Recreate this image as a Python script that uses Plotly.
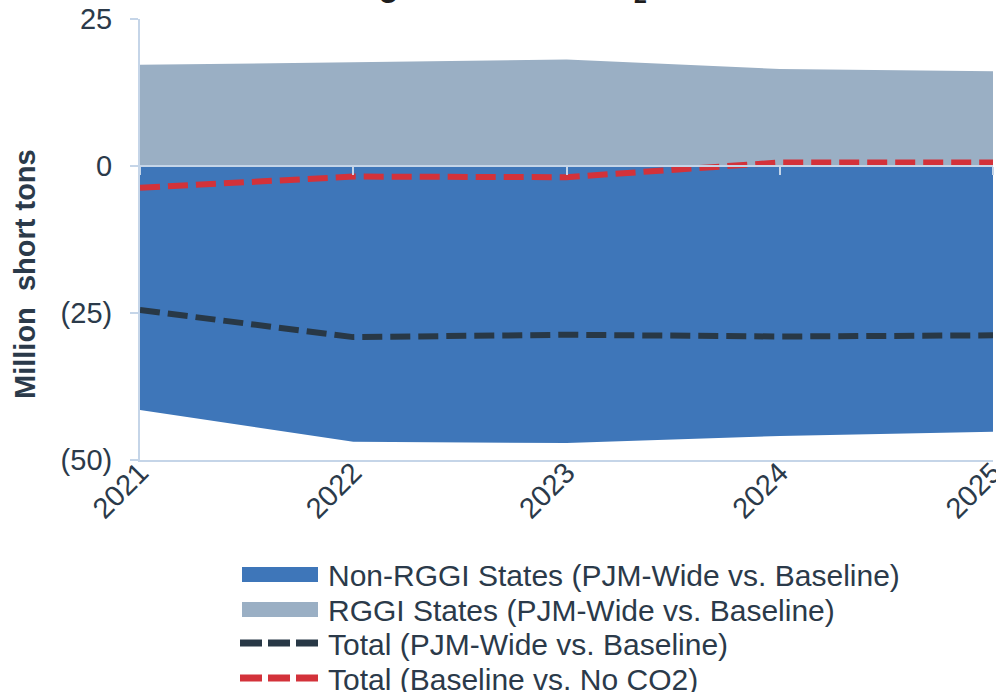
import plotly.graph_objects as go

years = [2021, 2022, 2023, 2024, 2025]
year_labels = ["2021", "2022", "2023", "2024", "2025"]
non_rggi = [-41.5, -46.9, -47.1, -45.9, -45.2]
rggi = [17.2, 17.6, 18.1, 16.5, 16.1]
total_pjm = [-24.5, -29.1, -28.7, -29.0, -28.8]
total_base = [-3.7, -1.8, -1.9, 0.6, 0.6]
y_ticks = [25, 0, -25, -50]
y_tick_labels = ["25", "0", "(25)", "(50)"]
series_names = ["Non-RGGI States (PJM-Wide vs. Baseline)",
                "RGGI States (PJM-Wide vs. Baseline)",
                "Total (PJM-Wide vs. Baseline)",
                "Total (Baseline vs. No CO2)"]

FONT = "Liberation Sans, Arial, sans-serif"
TXT = "#2b3a4a"
AX = "#c5d5e8"
BLUE = "#3e76b9"
GRAY = "#9aafc4"
DARK = "#283846"
RED = "#d3323a"

W, H = 996, 692
L, R, T, B = 140, 3, 19, 232
PW, PH = W - L - R, H - T - B


def px(x):
    return (x - L) / PW


def py(y):
    return (H - B - y) / PH


fig = go.Figure()
fig.add_trace(go.Scatter(x=years, y=non_rggi, name=series_names[0], mode="lines",
                         fill="tozeroy", fillcolor=BLUE, line=dict(width=0, color=BLUE),
                         showlegend=False))
fig.add_trace(go.Scatter(x=years, y=rggi, name=series_names[1], mode="lines",
                         fill="tozeroy", fillcolor=GRAY, line=dict(width=0, color=GRAY),
                         showlegend=False))
fig.add_trace(go.Scatter(x=years, y=total_pjm, name=series_names[2], mode="lines",
                         line=dict(width=6, color=DARK, dash="20px,8px"), showlegend=False))
fig.add_trace(go.Scatter(x=years, y=total_base, name=series_names[3], mode="lines",
                         line=dict(width=6, color=RED, dash="20px,8px"), showlegend=False))
# helper trace for the category axis that crosses at zero
fig.add_trace(go.Scatter(x=years, y=[0] * len(years), xaxis="x2", mode="lines",
                         line=dict(width=0), showlegend=False, hoverinfo="skip"))

fig.update_layout(
    width=W, height=H,
    margin=dict(l=L, r=R, t=T, b=B),
    paper_bgcolor="white", plot_bgcolor="white",
    font=dict(family=FONT, size=29, color=TXT),
    showlegend=False,
    xaxis=dict(range=[2021, 2025], tickvals=years, ticktext=year_labels,
               tickangle=-45, showgrid=False, zeroline=False, automargin=False,
               showline=True, linecolor=AX, linewidth=2, ticks="",
               ticklabeloverflow="allow", ticklabelstandoff=-18,
               tickfont=dict(family=FONT, size=29, color=TXT)),
    xaxis2=dict(range=[2021, 2025], overlaying="x", anchor="free",
                position=50 / 75, tickvals=years, showticklabels=False,
                showgrid=False, zeroline=False, showline=True, linecolor=AX,
                linewidth=2, ticks="outside", ticklen=8, tickwidth=2,
                tickcolor=AX, layer="above traces", automargin=False),
    yaxis=dict(range=[-50, 25], tickvals=y_ticks, ticktext=y_tick_labels,
               showgrid=True, gridcolor=AX, gridwidth=2, zeroline=False,
               showline=True, linecolor=AX, linewidth=2, automargin=False,
               ticks="outside", ticklen=8, tickwidth=2, tickcolor=AX,
               ticklabelstandoff=12,
               tickfont=dict(family=FONT, size=29, color=TXT)),
)

# y-axis title
fig.add_annotation(text="<b>Million  short tons</b>", xref="paper", yref="paper",
                   x=px(25), y=py(274), xanchor="center", yanchor="middle",
                   textangle=-90, showarrow=False,
                   font=dict(family=FONT, size=29, color=TXT))

# chart title (cropped at the top of the image)
fig.add_annotation(text="<b>Change in Annual CO<sub>2</sub> Emissions</b>",
                   xref="paper", yref="paper", x=px(294), y=1.0,
                   xanchor="left", yanchor="bottom", yshift=9,
                   showarrow=False, font=dict(family=FONT, size=33, color="#1e1e1e"))

# legend drawn below the plot
row_y = [574.5, 609.5, 643, 678]
for i, name in enumerate(series_names):
    cy = row_y[i]
    if i < 2:
        col = BLUE if i == 0 else GRAY
        fig.add_shape(type="rect", xref="paper", yref="paper",
                      x0=px(242), x1=px(318), y0=py(cy - 7.5), y1=py(cy + 7.5),
                      fillcolor=col, line=dict(width=0))
    else:
        col = DARK if i == 2 else RED
        fig.add_shape(type="line", xref="paper", yref="paper",
                      x0=px(240), x1=px(318), y0=py(cy), y1=py(cy),
                      line=dict(color=col, width=7, dash="22px,6px"))
    fig.add_annotation(text=name, xref="paper", yref="paper",
                       x=px(326), y=py(cy + 1), xanchor="left", yanchor="middle",
                       showarrow=False, font=dict(family=FONT, size=30, color=TXT))

fig.write_html("out.html", config={"displayModeBar": False},
               post_script="document.body.style.margin='0';document.body.style.padding='0';")
